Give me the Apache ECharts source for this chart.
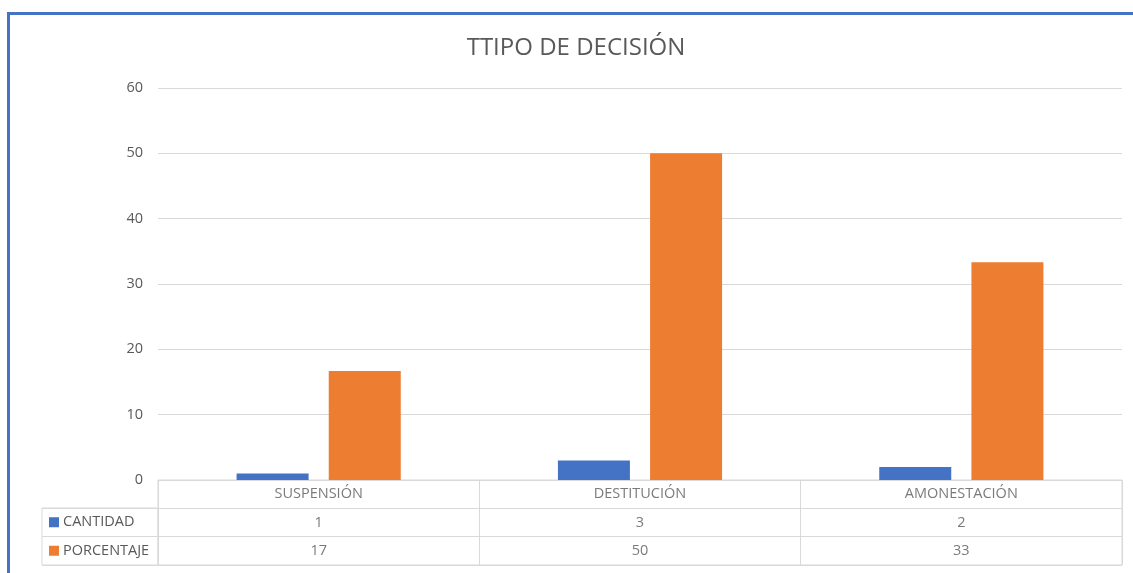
<!DOCTYPE html>
<html>
<head>
<meta charset="utf-8">
<script src="https://cdn.jsdelivr.net/npm/echarts@6/dist/echarts.min.js"></script>
<style>
  html, body { margin: 0; padding: 0; background: #fff; }
  #frame { position: absolute; left: 7px; top: 12px; width: 1300px; height: 700px;
           border-top: 3px solid #4472C4; border-left: 3px solid #4472C4; }
  #main { position: absolute; left: 0; top: 0; width: 1133px; height: 573px; }
</style>
</head>
<body>
<div id="frame"></div>
<div id="main"></div>
<script>
var chart = echarts.init(document.getElementById('main'), null, { renderer: 'canvas' });

// datos
var categorias = ['SUSPENSIÓN', 'DESTITUCIÓN', 'AMONESTACIÓN'];
var cantidad = [1, 3, 2];
var porcentaje = [16.67, 50, 33.33];
var serieNombres = ['CANTIDAD', 'PORCENTAJE'];
var colores = ['#4472C4', '#ED7D31'];
var yTicks = [0, 60, 10]; // min, max, intervalo

var txt = '#595959';
var linea = '#d9d9d9';
var fuente = 'Open Sans';
var tam = 14.5;

// celdas de la tabla de datos
var filas = ['cab', 'CANTIDAD', 'PORCENTAJE'];
var celdas = [];
categorias.forEach(function (c, i) {
    celdas.push([c, 'cab', c]);
    celdas.push([c, 'CANTIDAD', cantidad[i]]);
    celdas.push([c, 'PORCENTAJE', Math.round(porcentaje[i])]);
});

chart.setOption({
    animation: false,
    textStyle: { fontFamily: fuente },
    title: {
        text: 'TTIPO DE DECISIÓN',
        left: 571,
        top: 31,
        textAlign: 'center',
        textStyle: { fontFamily: fuente, fontSize: 24, fontWeight: 'normal', color: txt }
    },
    grid: [
        // grafico
        { left: 158, right: 11, top: 88, bottom: 93 },
        // tabla
        { left: 158, right: 11, top: 480, height: 85, show: true, borderColor: linea, borderWidth: 1 },
        // columna leyenda
        { left: 42, width: 116, top: 508, height: 57, show: true, borderColor: linea, borderWidth: 1 }
    ],
    xAxis: [
        {
            gridIndex: 0, type: 'category', data: categorias,
            axisLine: { show: true, lineStyle: { color: linea } },
            axisTick: { show: false }, axisLabel: { show: false }
        },
        {
            gridIndex: 1, type: 'category', data: categorias,
            axisLine: { show: false }, axisTick: { show: false }, axisLabel: { show: false },
            splitLine: { show: true, interval: 0, lineStyle: { color: linea } }
        },
        { gridIndex: 2, type: 'value', show: false }
    ],
    yAxis: [
        {
            gridIndex: 0, type: 'value', min: yTicks[0], max: yTicks[1], interval: yTicks[2],
            axisLine: { show: false }, axisTick: { show: false },
            axisLabel: { color: txt, fontSize: tam, margin: 15, fontFamily: fuente },
            splitLine: { lineStyle: { color: linea } }
        },
        {
            gridIndex: 1, type: 'category', data: filas, inverse: true,
            axisLine: { show: false }, axisTick: { show: false }, axisLabel: { show: false },
            splitLine: { show: true, interval: 0, lineStyle: { color: linea } }
        },
        {
            gridIndex: 2, type: 'category', data: serieNombres, inverse: true,
            axisLine: { show: false }, axisTick: { show: false },
            splitLine: { show: true, interval: 0, lineStyle: { color: linea } },
            axisLabel: {
                inside: true, margin: 7, color: txt, fontSize: tam, fontFamily: fuente,
                formatter: function (v, i) { return '{s' + i + '|}{t|' + v + '}'; },
                rich: {
                    s0: { width: 10, height: 10, backgroundColor: colores[0] },
                    s1: { width: 10, height: 10, backgroundColor: colores[1] },
                    t: { padding: [0, 0, 0, 4], color: txt, fontSize: tam, fontFamily: fuente }
                }
            }
        }
    ],
    series: [
        {
            name: serieNombres[0], type: 'bar', xAxisIndex: 0, yAxisIndex: 0,
            data: cantidad, barWidth: 72, barGap: '28%',
            itemStyle: { color: colores[0] }
        },
        {
            name: serieNombres[1], type: 'bar', xAxisIndex: 0, yAxisIndex: 0,
            data: porcentaje, barWidth: 72, barGap: '28%',
            itemStyle: { color: colores[1] }
        },
        {
            type: 'scatter', xAxisIndex: 1, yAxisIndex: 1,
            data: celdas, symbolSize: 1, itemStyle: { color: 'rgba(0,0,0,0)' },
            label: {
                show: true, position: 'inside', color: txt, fontSize: tam, fontFamily: fuente,
                formatter: function (p) { return p.value[2]; }
            },
            silent: true
        }
    ]
});
</script>
</body>
</html>
